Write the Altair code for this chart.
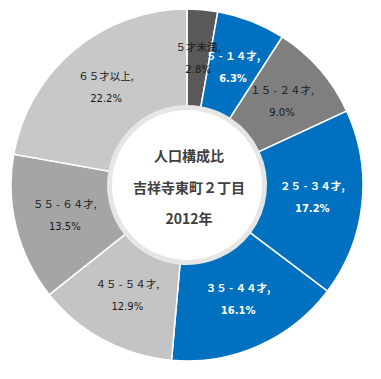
import altair as alt
import pandas as pd

names = ["５才未満,", "５ - １４才,", "１５ - ２４才,", "２５ - ３４才,",
         "３５ - ４４才,", "４５ - ５４才,", "５５ - ６４才,", "６５才以上,"]
values = [2.8, 6.3, 9.0, 17.2, 16.1, 12.9, 13.5, 22.2]
colors = ["#595959", "#0070C0", "#7F7F7F", "#0070C0",
          "#0070C0", "#C4C4C4", "#A5A5A5", "#C8C8C8"]
text_colors = ["#1a1a1a", "#ffffff", "#1a1a1a", "#ffffff",
               "#ffffff", "#1a1a1a", "#1a1a1a", "#1a1a1a"]
center_lines = ["人口構成比", "吉祥寺東町２丁目", "2012年"]

df = pd.DataFrame({
    "order": list(range(len(names))),
    "name": names,
    "value": values,
    "pct": [f"{v:.1f}%" for v in values],
    "tcolor": text_colors,
})

theta = alt.Theta("value:Q", stack=True)
order = alt.Order("order:O", sort="ascending")
color = alt.Color("name:N", scale=alt.Scale(domain=names, range=colors), legend=None)

base = alt.Chart(df)

ring = base.mark_arc(innerRadius=76, outerRadius=176, stroke="white", strokeWidth=1.5).encode(
    theta=theta, order=order, color=color
)

shadow = base.mark_arc(innerRadius=74, outerRadius=80, stroke=None).encode(
    theta=theta, order=order,
    color=alt.value("#e6e6e6"),
)

inner = base.mark_arc(innerRadius=0, outerRadius=75, stroke=None).encode(
    theta=theta, order=order, color=alt.value("white")
)


def labels(field, dy, font, size, weight, filt):
    return base.mark_text(radius=126, dy=dy, font=font, fontSize=size, fontWeight=weight,
                          baseline="middle", align="center").encode(
        theta=theta, order=order, text=f"{field}:N",
        color=alt.Color("tcolor:N", scale=None),
        opacity=alt.condition(filt, alt.value(1), alt.value(0)),
    )


white_sel = alt.datum.tcolor == "#ffffff"
dark_sel = alt.datum.tcolor != "#ffffff"

lab_name_d = labels("name", -11, "Noto Sans CJK JP", 10.5, "normal", dark_sel)
lab_name_w = labels("name", -11, "Noto Sans CJK JP", 10.5, "bold", white_sel)
lab_pct_d = labels("pct", 11, "DejaVu Sans", 10, "normal", dark_sel)
lab_pct_w = labels("pct", 11, "DejaVu Sans", 10, "bold", white_sel)

cdf = pd.DataFrame({"line": center_lines, "i": [0, 1, 2]})
center = alt.Chart(cdf).mark_text(font="Noto Sans CJK JP", fontSize=14, fontWeight="bold",
                                  color="#404040", baseline="middle", align="center").encode(
    x=alt.value(181),
    y=alt.Y("i:Q", axis=None, scale=alt.Scale(domain=[0, 2], range=[149, 212])),
    text="line:N",
)

chart = alt.layer(ring, shadow, inner, lab_name_d, lab_name_w, lab_pct_d, lab_pct_w,
                  center).properties(
    width=358, height=354,
    autosize=alt.AutoSizeParams(type="none"),
    padding=0,
).configure_view(stroke=None)

chart.save("out.html", embed_options={"renderer": "svg", "actions": False})
